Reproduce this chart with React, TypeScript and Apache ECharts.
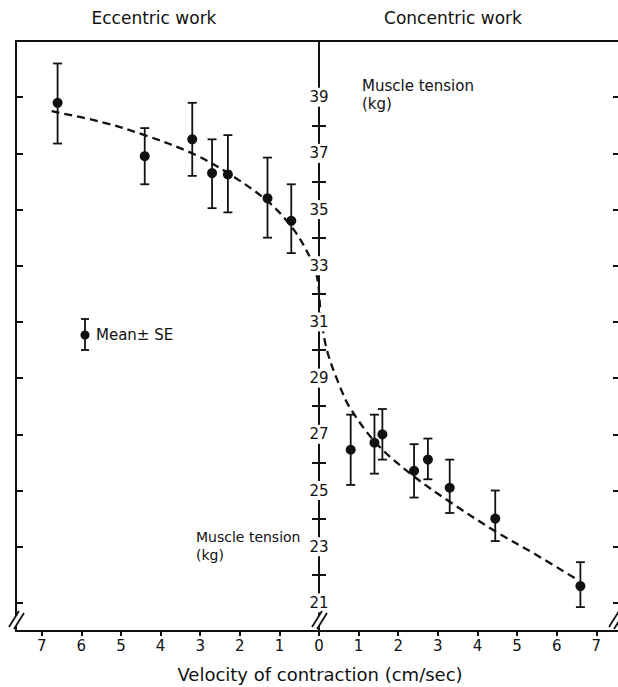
import React, { useEffect, useRef } from "react";
import * as echarts from "echarts";

// ---- axis tick values ----
const xTickValues = [-7, -6, -5, -4, -3, -2, -1, 0, 1, 2, 3, 4, 5, 6, 7];
const oddTensionTicks = [21, 23, 25, 27, 29, 31, 33, 35, 37, 39];
const evenTensionTicks = [22, 24, 26, 28, 30, 32, 34, 36, 38];

// ---- eccentric work (lengthening, drawn left of 0) ----
const eccVelocity = [-6.6, -4.4, -3.2, -2.7, -2.3, -1.3, -0.7];
const eccMean = [38.8, 36.9, 37.5, 36.3, 36.25, 35.4, 34.6];
const eccLow = [37.35, 35.9, 36.2, 35.05, 34.9, 34.0, 33.45];
const eccHigh = [40.2, 37.9, 38.8, 37.5, 37.65, 36.85, 35.9];

// ---- concentric work (shortening, drawn right of 0) ----
const conVelocity = [0.8, 1.4, 1.6, 2.4, 2.75, 3.3, 4.45, 6.6];
const conMean = [26.45, 26.7, 27.0, 25.7, 26.1, 25.1, 24.0, 21.6];
const conLow = [25.2, 25.6, 26.1, 24.75, 25.4, 24.2, 23.2, 20.85];
const conHigh = [27.7, 27.7, 27.9, 26.65, 26.85, 26.1, 25.0, 22.45];

// ---- fitted dashed curve ----
const curveVelocity = [-6.75, -5.5, -4.4, -3.2, -2.3, -1.3, -0.7, -0.3, -0.05, 0.05, 0.2, 0.5, 0.8, 1.5, 2.4, 3.3, 4.45, 5.5, 6.55];
const curveTension = [38.5, 38.12, 37.65, 37.0, 36.3, 35.3, 34.4, 33.5, 32.6, 31.2, 30.0, 28.8, 27.9, 26.6, 25.5, 24.6, 23.55, 22.7, 21.8];

const INK = "#111";
const FONT = '"DejaVu Sans", "Liberation Sans", sans-serif';

function breakMark(cx: number, cy: number) {
  return {
    type: "group",
    children: [
      {
        type: "polygon",
        shape: { points: [[cx - 7, cy + 8], [cx + 3, cy - 8], [cx + 8, cy - 6], [cx - 2, cy + 10]] },
        style: { fill: "#fff" },
        z: 100,
      },
      { type: "line", shape: { x1: cx - 7, y1: cy + 8, x2: cx + 3, y2: cy - 8 }, style: { stroke: INK, lineWidth: 1.8 }, z: 101 },
      { type: "line", shape: { x1: cx - 2, y1: cy + 10, x2: cx + 8, y2: cy - 6 }, style: { stroke: INK, lineWidth: 1.8 }, z: 101 },
    ],
  };
}

const GRID_LEFT = 16;
const GRID_WIDTH = 606;

export default function App() {
  const ref = useRef<HTMLDivElement>(null);
  useEffect(() => {
    if (!ref.current) return;
    const chart = echarts.init(ref.current, null, { renderer: "svg" });

    const errRender = (params: any, api: any) => {
      const x = api.value(0);
      const lo = api.coord([x, api.value(1)]);
      const hi = api.coord([x, api.value(2)]);
      const cap = 4.5;
      const st = { stroke: INK, lineWidth: 1.8 };
      return {
        type: "group",
        children: [
          { type: "line", shape: { x1: lo[0], y1: lo[1], x2: hi[0], y2: hi[1] }, style: st },
          { type: "line", shape: { x1: lo[0] - cap, y1: lo[1], x2: lo[0] + cap, y2: lo[1] }, style: st },
          { type: "line", shape: { x1: hi[0] - cap, y1: hi[1], x2: hi[0] + cap, y2: hi[1] }, style: st },
        ],
      };
    };

    const errData = [
      ...eccVelocity.map((v, i) => [v, eccLow[i], eccHigh[i]]),
      ...conVelocity.map((v, i) => [v, conLow[i], conHigh[i]]),
    ];
    const meanData = [
      ...eccVelocity.map((v, i) => [v, eccMean[i]]),
      ...conVelocity.map((v, i) => [v, conMean[i]]),
    ];
    const curveData = curveVelocity.map((v, i) => [v, curveTension[i]]);

    const lineStyle = { color: INK, width: 2 };
    const centerOffset = -GRID_WIDTH / 2; // x range is symmetric, so 0 sits mid-grid

    const txt = (text: string, x: number, y: number, size: number, align = "left") => ({
      type: "text",
      style: { text, x, y, textAlign: align, textVerticalAlign: "middle", fontFamily: FONT, fontSize: size, fill: INK },
    });

    chart.setOption({
      animation: false,
      backgroundColor: "#fff",
      grid: { left: GRID_LEFT, top: 41, width: GRID_WIDTH, height: 590, outerBoundsMode: "none", containLabel: false },
      xAxis: [
        {
          type: "value",
          min: -7.65,
          max: 7.65,
          position: "bottom",
          axisLine: { show: true, onZero: false, lineStyle },
          splitLine: { show: false },
          axisTick: { show: true, inside: false, length: 5, customValues: xTickValues, lineStyle },
          axisLabel: {
            customValues: xTickValues,
            formatter: (v: number) => String(Math.abs(v)),
            color: INK,
            fontFamily: FONT,
            fontSize: 15,
            margin: 7,
          },
        },
        {
          type: "value",
          min: -7.65,
          max: 7.65,
          position: "top",
          axisLine: { show: true, onZero: false, lineStyle },
          splitLine: { show: false },
          axisTick: { show: false },
          axisLabel: { show: false },
        },
      ],
      yAxis: [
        {
          type: "value",
          min: 20,
          max: 41,
          position: "left",
          axisLine: { show: true, onZero: false, lineStyle },
          splitLine: { show: false },
          axisTick: { show: true, inside: true, length: 7, customValues: oddTensionTicks, lineStyle },
          axisLabel: { show: false },
        },
        {
          type: "value",
          min: 20,
          max: 41,
          position: "left",
          offset: centerOffset,
          axisLine: { show: true, onZero: false, lineStyle },
          splitLine: { show: false },
          axisTick: { show: true, inside: true, length: 7, customValues: evenTensionTicks, lineStyle },
          axisLabel: {
            customValues: oddTensionTicks,
            align: "center",
            margin: 0,
            color: INK,
            fontFamily: FONT,
            fontSize: 15,
            backgroundColor: "#fff",
            padding: [2, 1],
          },
          z: 5,
        },
        {
          type: "value",
          min: 20,
          max: 41,
          position: "left",
          offset: centerOffset,
          axisLine: { show: false, onZero: false },
          splitLine: { show: false },
          axisTick: { show: true, inside: false, length: 7, customValues: evenTensionTicks, lineStyle },
          axisLabel: { show: false },
        },
        {
          type: "value",
          min: 20,
          max: 41,
          position: "right",
          axisLine: { show: true, onZero: false, lineStyle },
          splitLine: { show: false },
          axisTick: { show: true, inside: true, length: 9, customValues: oddTensionTicks, lineStyle },
          axisLabel: { show: false },
        },
      ],
      series: [
        {
          type: "line",
          data: curveData,
          smooth: 0.35,
          showSymbol: false,
          lineStyle: { color: INK, width: 2.3, type: [8, 5] },
          z: 2,
        },
        {
          type: "custom",
          renderItem: errRender,
          data: errData,
          encode: { x: 0, y: [1, 2] },
          z: 3,
        },
        {
          type: "scatter",
          data: meanData,
          symbol: "circle",
          symbolSize: 10,
          itemStyle: { color: INK, opacity: 1 },
          z: 4,
        },
      ],
      graphic: [
        txt("Eccentric work", 154, 18, 17, "center"),
        txt("Concentric work", 453, 18, 17, "center"),
        txt("Muscle tension", 362, 86, 15),
        txt("(kg)", 362, 104, 15),
        txt("Muscle tension", 196, 537, 14),
        txt("(kg)", 196, 555, 14),
        txt("Velocity of contraction (cm/sec)", 320, 674, 18, "center"),
        txt("Mean\u00b1 SE", 96, 335, 15),
        { type: "line", shape: { x1: 85, y1: 319, x2: 85, y2: 350 }, style: { stroke: INK, lineWidth: 1.8 } },
        { type: "line", shape: { x1: 81, y1: 319, x2: 89, y2: 319 }, style: { stroke: INK, lineWidth: 1.8 } },
        { type: "line", shape: { x1: 81, y1: 350, x2: 89, y2: 350 }, style: { stroke: INK, lineWidth: 1.8 } },
        { type: "circle", shape: { cx: 85, cy: 335, r: 4.5 }, style: { fill: INK } },
        breakMark(16, 619),
        breakMark(319, 619),
        breakMark(616, 619),
      ],
    });
    return () => chart.dispose();
  }, []);
  return <div ref={ref} style={{ position: "absolute", left: 0, top: 0, width: 618, height: 687, background: "#fff" }} />;
}
